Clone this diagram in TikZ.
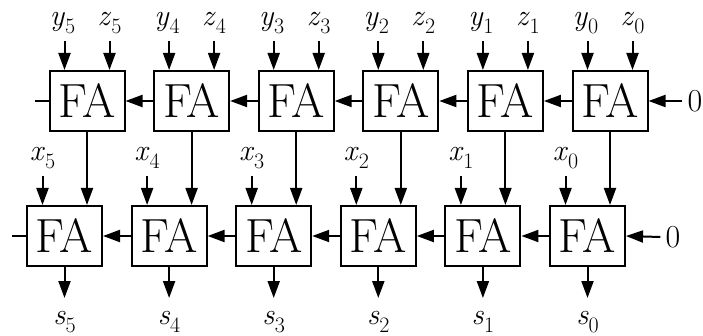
\documentclass[tikz,border=0pt]{standalone}
\usetikzlibrary{arrows.meta, calc}
\newcommand{\sig}[2]{\fontsize{30}{30}\selectfont\textit{#1}\raisebox{-8pt}{\fontsize{22}{22}\selectfont #2}}

\begin{document}
\begin{tikzpicture}[x=1pt, y=-1pt,
  fabox/.style={draw, line width=2pt, minimum width=75pt, minimum height=60pt,
                inner sep=0pt, font=\fontsize{48}{48}\selectfont},
  sigline/.style={line width=2pt},
  sigarrow/.style={sigline, -{Triangle[length=17pt, width=12pt]}},
  siglabel/.style={anchor=base, inner sep=0pt},
  zerolabel/.style={inner sep=5pt, font=\fontsize{32}{32}\selectfont}]
\useasboundingbox (0,0) rectangle (703,336);

% Top row of adders
\foreach \i in {0,...,5}
  \node[fabox] (t\i) at ({610-104.6*\i},101) {FA};
% Bottom row of adders
\foreach \i in {0,...,5}
  \node[fabox] (b\i) at ({587.5-104.6*\i},236) {FA};

% Inputs y, z on top
\foreach \i in {0,...,5} {
  \coordinate (yin\i) at ($(t\i.north)+(-22.5,-29)$);
  \coordinate (zin\i) at ($(t\i.north)+(22.5,-29)$);
  \draw[sigarrow] (yin\i) -- (yin\i |- t\i.north);
  \draw[sigarrow] (zin\i) -- (zin\i |- t\i.north);
  \node[siglabel] (ylab\i) at ($(yin\i)+(-2,-15)$) {\sig{y}{\i}};
  \node[siglabel] (zlab\i) at ($(zin\i)+(0,-15)$) {\sig{z}{\i}};
}

% Sums of the top row into the bottom row, inputs x
\foreach \i in {0,...,5} {
  \draw[sigarrow] (t\i.south) -- (t\i.south |- b\i.north);
  \coordinate (xin\i) at ($(b\i.north)+(-22,-29)$);
  \draw[sigarrow] (xin\i) -- (xin\i |- b\i.north);
  \node[siglabel] (xlab\i) at ($(xin\i)+(0,-15)$) {\sig{x}{\i}};
}

% Outputs s
\foreach \i in {0,...,5} {
  \coordinate (sout\i) at ($(b\i.south)+(0,31)$);
  \draw[sigarrow] (b\i.south) -- (sout\i);
  \node[siglabel] (slab\i) at ($(sout\i)+(0,26)$) {\sig{s}{\i}};
}

% Carries
\foreach \i/\j in {0/1,1/2,2/3,3/4,4/5} {
  \draw[sigarrow] (t\i.west) -- (t\j.east);
  \draw[sigarrow] (b\i.west) -- (b\j.east);
}
\coordinate (tcout) at (35,101);
\draw[sigline] (t5.west) -- (tcout);
\coordinate (bcout) at (12,236);
\draw[sigline] (b5.west) -- (bcout);
\node[zerolabel] (tcin) at (695,101) {0};
\draw[sigarrow] (tcin.west) -- (t0.east);
\node[zerolabel] (bcin) at (673,237) {0};
\draw[sigarrow] (bcin.west) -- (b0.east);

\end{tikzpicture}
\end{document}
